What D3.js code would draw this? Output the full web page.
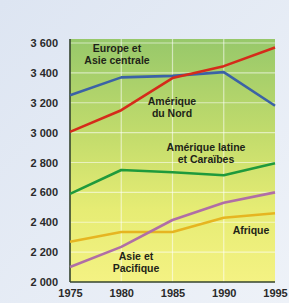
<!DOCTYPE html>
<html><head><meta charset="utf-8">
<script src="https://cdn.jsdelivr.net/npm/d3@7"></script>
<style>html,body{margin:0;padding:0;overflow:hidden;}svg{display:block;}</style>
</head><body>
<script>
const years = [1975, 1980, 1985, 1990, 1995];
const yTicks = [2000, 2200, 2400, 2600, 2800, 3000, 3200, 3400, 3600];
const europe = [3250, 3370, 3380, 3405, 3180];
const ameriqueNord = [3005, 3150, 3365, 3445, 3570];
const ameriqueLatine = [2590, 2750, 2735, 2715, 2795];
const afrique = [2270, 2335, 2335, 2430, 2460];
const asie = [2100, 2235, 2415, 2530, 2600];
const seriesNames = ["Europe et Asie centrale", "Amérique du Nord", "Amérique latine et Caraïbes", "Afrique", "Asie et Pacifique"];

const W = 289, H = 303;
const svg = d3.select("body").append("svg").attr("width", W).attr("height", H);
const defs = svg.append("defs");
const bg = defs.append("linearGradient").attr("id","bg").attr("x1",0).attr("y1",0).attr("x2",1).attr("y2",1);
bg.append("stop").attr("offset","0%").attr("stop-color","#dde5f2");
bg.append("stop").attr("offset","100%").attr("stop-color","#eef2f8");
const pg = defs.append("linearGradient").attr("id","pg").attr("x1",0).attr("y1",0).attr("x2",0).attr("y2",1);
pg.append("stop").attr("offset","0%").attr("stop-color","#97c86a");
pg.append("stop").attr("offset","40%").attr("stop-color","#c3dc6c");
pg.append("stop").attr("offset","70%").attr("stop-color","#e6ec74");
pg.append("stop").attr("offset","100%").attr("stop-color","#f4f283");
svg.append("rect").attr("width",W).attr("height",H).attr("fill","url(#bg)");

const x = d3.scaleLinear().domain([1975,1995]).range([70,275]);
const y = d3.scaleLinear().domain([2000,3600]).range([282,43]);
const plotTop = 39;
const FONT = "Liberation Sans, Arial, sans-serif";

svg.append("rect").attr("x",x(1975)).attr("y",plotTop).attr("width",x(1995)-x(1975)).attr("height",y(2000)-plotTop).attr("fill","url(#pg)");

// gridlines
svg.append("g").selectAll("line").data(yTicks.slice(1)).join("line")
  .attr("x1",x(1975)).attr("x2",x(1995)).attr("y1",d=>y(d)).attr("y2",d=>y(d))
  .attr("stroke","#ffffff").attr("stroke-opacity",0.55).attr("stroke-width",1.2);
svg.append("g").selectAll("line").data(years.slice(1,4)).join("line")
  .attr("y1",plotTop).attr("y2",y(2000)).attr("x1",d=>x(d)).attr("x2",d=>x(d))
  .attr("stroke","#ffffff").attr("stroke-opacity",0.55).attr("stroke-width",1.2);

// axes
const yAxis = d3.axisLeft(y).tickValues(yTicks).tickSize(0).tickPadding(12)
  .tickFormat(d => d3.format(",")(d).replace(",", " "));
const gy = svg.append("g").attr("transform",`translate(${x(1975)},0)`).call(yAxis);
gy.select(".domain").remove();
gy.selectAll("text").attr("font-family",FONT).attr("font-size",11).attr("font-weight","bold").attr("fill","#2a2a2a");
const xAxis = d3.axisBottom(x).tickValues(years).tickSize(0).tickPadding(7).tickFormat(d3.format("d"));
const gx = svg.append("g").attr("transform",`translate(0,${y(2000)})`).call(xAxis);
gx.select(".domain").remove();
gx.selectAll("text").attr("font-family",FONT).attr("font-size",11).attr("font-weight","bold").attr("fill","#2a2a2a");

svg.append("line").attr("x1",x(1975)).attr("x2",x(1975)).attr("y1",plotTop).attr("y2",y(2000)).attr("stroke","#34432e").attr("stroke-width",1.6);
svg.append("line").attr("x1",x(1975)).attr("x2",x(1995)).attr("y1",y(2000)).attr("y2",y(2000)).attr("stroke","#34432e").attr("stroke-width",1.6);

// lines
const line = d3.line().x((d,i)=>x(years[i])).y(d=>y(d));
const series = [
  {v: ameriqueLatine, c:"#1f9a3c"},
  {v: afrique, c:"#e6b521"},
  {v: asie, c:"#b06ea6"},
  {v: europe, c:"#3b62a6"},
  {v: ameriqueNord, c:"#d52b1a"}
];
svg.append("g").selectAll("path").data(series).join("path")
  .attr("d", d=>line(d.v)).attr("fill","none").attr("stroke",d=>d.c)
  .attr("stroke-width",2.6).attr("stroke-linejoin","round");

// labels
const labels = [
  {t:["Europe et","Asie centrale"], x:117, y:52},
  {t:["Amérique","du Nord"], x:172, y:105},
  {t:["Amérique latine","et Caraïbes"], x:206, y:151},
  {t:["Afrique"], x:251, y:234},
  {t:["Asie et","Pacifique"], x:136, y:260}
];
labels.forEach(l => {
  const t = svg.append("text").attr("x",l.x).attr("y",l.y).attr("text-anchor","middle")
    .attr("font-family",FONT).attr("font-size",10.5).attr("font-weight","bold").attr("fill","#1e2418");
  l.t.forEach((s,i)=> t.append("tspan").attr("x",l.x).attr("dy", i===0?0:11.5).text(s));
});
</script>
</body></html>
